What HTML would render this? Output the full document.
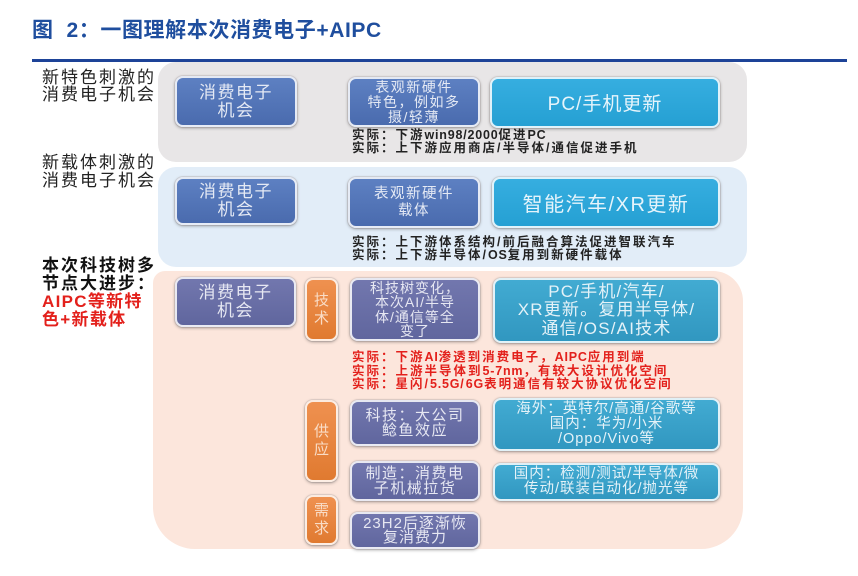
<!DOCTYPE html>
<html>
<head>
<meta charset="utf-8">
<style>
html,body{margin:0;padding:0;background:#fff;}
body{width:858px;height:576px;position:relative;overflow:hidden;font-family:"Liberation Sans","Noto Sans CJK SC",sans-serif;}
.a{position:absolute;}
.title{left:32px;top:14px;font-size:21px;font-weight:bold;color:#1f4e9e;white-space:nowrap;letter-spacing:0.6px;}
.rule{left:32px;top:59px;width:815px;height:3px;background:#1d4398;}
.panel{position:absolute;}
.lbl{position:absolute;left:42px;font-size:17px;line-height:18px;letter-spacing:2px;color:#222;white-space:nowrap;}
.lblb{font-weight:bold;color:#111;}
.red{color:#e3201b;}
.box{position:absolute;box-sizing:border-box;border:2px solid rgba(255,255,255,0.85);border-radius:8px;box-shadow:0 1px 3px rgba(0,0,0,0.35),0 0 0 1px rgba(200,190,190,0.35);display:flex;flex-direction:column;align-items:center;justify-content:center;text-align:center;white-space:nowrap;}
.db{background:linear-gradient(#5d80c2,#4a6bae);color:#e4e9f4;}
.cy{background:linear-gradient(#36aee0,#25a0d3);color:#e6f4fb;}
.pu{background:linear-gradient(#7277ae,#60669e);color:#e6e7f2;}
.cy3{background:linear-gradient(#42abd2,#3197c0);color:#e4f2f8;}
.or{background:linear-gradient(#ef9150,#e07a30);color:#f9dcc6;font-size:15px;line-height:18px;}
.note{position:absolute;left:352px;font-size:12.5px;font-weight:bold;line-height:13px;letter-spacing:2px;color:#222;white-space:nowrap;}
.note .l{letter-spacing:0.8px;}
.rnote{color:#e3201b;line-height:13.5px;}
</style>
</head>
<body>
<div class="a title">图&nbsp;&nbsp;2：一图理解本次消费电子+AIPC</div>
<div class="a rule"></div>

<!-- panels -->
<div class="panel" style="left:158px;top:62px;width:589px;height:100px;background:#e8e6e7;border-radius:18px;"></div>
<div class="panel" style="left:158px;top:167px;width:589px;height:100px;background:#e2edf8;border-radius:18px;"></div>
<div class="panel" style="left:153px;top:271px;width:590px;height:278px;background:#fce6dc;border-radius:12px 30px 42px 42px;"></div>

<!-- left labels -->
<div class="lbl" style="top:69px;">新特色刺激的</div>
<div class="lbl" style="top:86px;">消费电子机会</div>
<div class="lbl" style="top:154px;">新载体刺激的</div>
<div class="lbl" style="top:172px;">消费电子机会</div>
<div class="lbl lblb" style="top:257px;">本次科技树多</div>
<div class="lbl lblb" style="top:275px;">节点大进步：</div>
<div class="lbl lblb red" style="top:293px;letter-spacing:1.3px;">AIPC等新特</div>
<div class="lbl lblb red" style="top:311px;letter-spacing:1.3px;">色+新载体</div>

<!-- panel 1 -->
<div class="box db" style="left:175px;top:76px;width:122px;height:51px;font-size:17px;line-height:18px;letter-spacing:1.5px;">消费电子<br>机会</div>
<div class="box db" style="left:348px;top:77px;width:132px;height:50px;font-size:14px;line-height:15px;letter-spacing:1.5px;">表观新硬件<br>特色，例如多<br>摄/轻薄</div>
<div class="box cy" style="left:490px;top:77px;width:230px;height:51px;font-size:19px;letter-spacing:1px;">PC/手机更新</div>
<div class="note" style="top:129px;">实际：下游<span class="l">win98/2000</span>促进<span class="l">PC</span><br>实际：上下游应用商店/半导体/通信促进手机</div>

<!-- panel 2 -->
<div class="box db" style="left:175px;top:177px;width:122px;height:48px;font-size:17px;line-height:18px;letter-spacing:1.5px;">消费电子<br>机会</div>
<div class="box db" style="left:348px;top:177px;width:132px;height:51px;font-size:14.5px;line-height:17px;letter-spacing:1.5px;">表观新硬件<br>载体</div>
<div class="box cy" style="left:492px;top:177px;width:228px;height:51px;font-size:20px;letter-spacing:1.5px;">智能汽车/XR更新</div>
<div class="note" style="top:236px;">实际：上下游体系结构/前后融合算法促进智联汽车<br>实际：上下游半导体/<span class="l">OS</span>复用到新硬件载体</div>

<!-- panel 3 -->
<div class="box pu" style="left:175px;top:277px;width:121px;height:50px;font-size:17px;line-height:18px;letter-spacing:1.5px;">消费电子<br>机会</div>
<div class="box or" style="left:305px;top:278px;width:33px;height:63px;">技<br>术</div>
<div class="box pu" style="left:350px;top:278px;width:130px;height:63px;font-size:14px;line-height:14.5px;letter-spacing:1px;">科技树变化，<br>本次AI/半导<br>体/通信等全<br>变了</div>
<div class="box cy3" style="left:493px;top:278px;width:227px;height:65px;font-size:17px;line-height:18.5px;letter-spacing:1.2px;">PC/手机/汽车/<br>XR更新。复用半导体/<br>通信/OS/AI技术</div>
<div class="note rnote" style="top:351px;">实际：下游<span class="l">AI</span>渗透到消费电子，<span class="l">AIPC</span>应用到端<br>实际：上游半导体到<span class="l">5-7nm</span>，有较大设计优化空间<br>实际：星闪/<span class="l">5.5G</span>/<span class="l">6G</span>表明通信有较大协议优化空间</div>

<div class="box or" style="left:305px;top:400px;width:33px;height:82px;">供<br>应</div>
<div class="box pu" style="left:350px;top:400px;width:130px;height:46px;font-size:15px;line-height:15.5px;letter-spacing:1.5px;">科技：大公司<br>鲶鱼效应</div>
<div class="box cy3" style="left:493px;top:398px;width:227px;height:53px;font-size:14.5px;line-height:15px;letter-spacing:1px;">海外：英特尔/高通/谷歌等<br>国内：华为/小米<br>/Oppo/Vivo等</div>
<div class="box pu" style="left:350px;top:461px;width:130px;height:40px;font-size:15px;line-height:15px;letter-spacing:1.5px;">制造：消费电<br>子机械拉货</div>
<div class="box cy3" style="left:493px;top:463px;width:227px;height:38px;font-size:14.5px;line-height:15px;letter-spacing:1px;">国内：检测/测试/半导体/微<br>传动/联装自动化/抛光等</div>
<div class="box or" style="left:305px;top:495px;width:33px;height:50px;">需<br>求</div>
<div class="box pu" style="left:350px;top:512px;width:130px;height:37px;font-size:15px;line-height:14px;letter-spacing:1px;">23H2后逐渐恢<br>复消费力</div>
</body>
</html>
